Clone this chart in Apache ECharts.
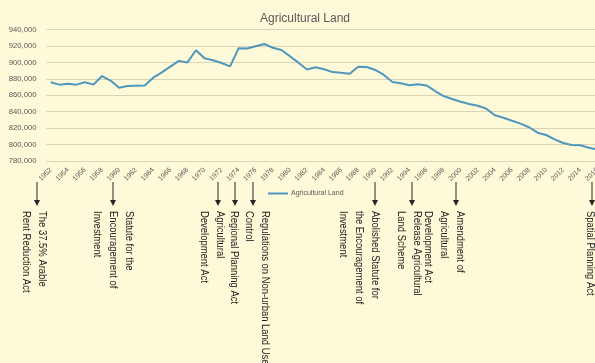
<!DOCTYPE html>
<html>
<head>
<meta charset="utf-8">
<script src="https://cdn.jsdelivr.net/npm/echarts@6/dist/echarts.min.js"></script>
<style>
html,body{margin:0;padding:0;background:#FEF9D8;}
#chart{width:595px;height:363px;}
</style>
</head>
<body>
<div id="chart"></div>
<script>
var years = [];
for (var y = 1952; y <= 2016; y++) years.push(String(y));

var agriculturalLand = [
  876000, 873000, 874000, 873000, 876000, 873000, 883500, 878000, 869300, 871300,
  871700, 872000, 881500, 888000, 895000, 902000, 900000, 915000, 905100, 902700,
  899400, 895300, 917500, 917000, 919800, 922600, 918000, 915200, 907700, 899800,
  891500, 894100, 891700, 888300, 887600, 886400, 894900, 894500, 890900, 884800,
  876200, 874600, 872200, 873400, 872000, 865200, 859100, 855500, 852200, 849400,
  847300, 843700, 835600, 832700, 829000, 825400, 821000, 814400, 811600, 806300,
  801800, 799400, 799000, 796100, 794000
];

var seriesName = 'Agricultural Land';
var chartTitle = 'Agricultural Land';
var yMin = 780000, yMax = 940000, yStep = 20000;

var annotations = [
  {text: 'The 37.5% Arable\nRent Reduction Act', ax: 37, tx: 50},
  {text: 'Statute for the\nEncouragement of\nInvestment', ax: 113, tx: 137},
  {text: 'Agricultural\nDevelopment Act', ax: 218, tx: 228},
  {text: 'Regional Planning Act', ax: 235, tx: 242},
  {text: 'Regulations on Non-urban Land Use\nControl', ax: 253, tx: 273},
  {text: 'Abolished Statute for\nthe Encouragement of\nInvestment', ax: 375, tx: 383},
  {text: 'Release Agricultural\nLand Scheme', ax: 412, tx: 425},
  {text: 'Amendment of\nAgricultural\nDevelopment Act', ax: 456, tx: 468},
  {text: 'Spatial Planning Act', ax: 592, tx: 598}
];

var graphics = [];
annotations.forEach(function (a) {
  graphics.push({
    type: 'line', silent: true,
    shape: {x1: a.ax, y1: 182, x2: a.ax, y2: 201},
    style: {stroke: '#262626', lineWidth: 1}
  });
  graphics.push({
    type: 'polygon', silent: true,
    shape: {points: [[a.ax - 3, 200], [a.ax + 3, 200], [a.ax, 206]]},
    style: {fill: '#262626'}
  });
  graphics.push({
    type: 'text', silent: true,
    x: a.tx, y: 211, rotation: -Math.PI / 2, scaleX: 0.86,
    style: {
      text: a.text,
      font: '11px "Liberation Sans", sans-serif',
      fill: '#1a1a1a',
      lineHeight: 16,
      align: 'left',
      verticalAlign: 'top'
    }
  });
});

var chart = echarts.init(document.getElementById('chart'), null, {renderer: 'canvas'});
chart.setOption({
  backgroundColor: '#FEF9D8',
  animation: false,
  title: {
    text: chartTitle,
    left: 300, top: 8, textAlign: 'center',
    textStyle: {fontFamily: 'Liberation Sans', fontSize: 12, fontWeight: 'normal', color: '#595959'}
  },
  legend: {
    left: 263, top: 185,
    itemWidth: 20, itemHeight: 8, itemGap: 4,
    icon: 'path://M0,4 L20,4 L20,6 L0,6 Z',
    textStyle: {fontFamily: 'Liberation Sans', fontSize: 7, color: '#595959', padding: [0, 0, 0, -2]},
    data: [seriesName]
  },
  grid: {left: 46.5, top: 29.7, width: 555.1, height: 131.2, outerBoundsMode: 'none', containLabel: false},
  xAxis: {
    type: 'category',
    data: years,
    boundaryGap: true,
    axisLine: {show: true, lineStyle: {color: '#D9D4B6'}},
    axisTick: {show: false},
    axisLabel: {
      interval: 1, rotate: 45, margin: 8,
      fontFamily: 'Liberation Sans', fontSize: 7, color: '#595959'
    }
  },
  yAxis: {
    type: 'value',
    min: yMin, max: yMax, interval: yStep,
    axisLine: {show: false},
    axisTick: {show: false},
    splitLine: {lineStyle: {color: '#D9D4B6', width: 1}},
    axisLabel: {
      margin: 10,
      fontFamily: 'Liberation Sans', fontSize: 7.7, color: '#595959',
      formatter: function (v) { return v.toLocaleString('en-US'); }
    }
  },
  series: [{
    name: seriesName,
    type: 'line',
    data: agriculturalLand,
    symbol: 'none',
    showSymbol: false,
    lineStyle: {color: '#4F97BD', width: 2},
    itemStyle: {color: '#4F97BD'}
  }],
  graphic: graphics
});
</script>
</body>
</html>
